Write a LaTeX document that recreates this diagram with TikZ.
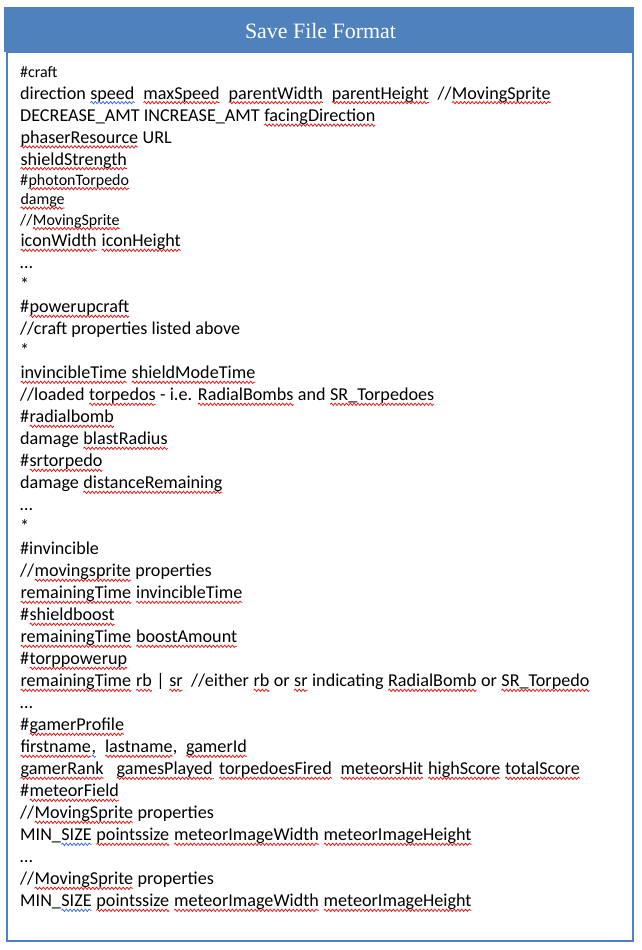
\documentclass[tikz,border=0pt]{standalone}
\usepackage{fontspec}
\setmainfont{Carlito}
\newfontfamily\titlefont{Liberation Serif}
\usetikzlibrary{decorations.pathmorphing}
\definecolor{hdrblue}{RGB}{79,129,189}
\definecolor{sqred}{RGB}{225,20,20}
\definecolor{sqblue}{RGB}{60,100,225}
\tikzset{
  txt/.style={anchor=base west, inner sep=0pt, text=black},
  big/.style={txt, font=\fontsize{18.2}{21}\selectfont},
  sml/.style={txt, font=\fontsize{16}{19}\selectfont},
  title/.style={inner sep=0pt, text=white, font=\titlefont\fontsize{22}{25}\selectfont},
  wave/.style={line width=0.75bp, decorate, decoration={snake, amplitude=1.2bp, segment length=3.8bp}}
}
\newcommand\sqline[2]{\tikz[baseline=(w.base)]{\node[inner sep=0pt, outer sep=0pt, anchor=base west] (w) at (0,0) {#2};
  \draw[#1, wave] ([yshift=-3.6bp]w.base west) -- ([yshift=-3.6bp]w.base east);}}
\newcommand\rw[1]{\sqline{sqred}{#1}}
\newcommand\bw[1]{\sqline{sqblue}{#1}}
\begin{document}
\begin{tikzpicture}[x=1bp,y=-1bp]
\useasboundingbox (0,0) rectangle (642,950);
\draw[hdrblue, line width=2bp] (6.5,52) rectangle (633,941);
\fill[hdrblue] (4,7) rectangle (634,52);
\node[title, anchor=base] (ttl) at (320.5,38.5) {Save File Format};

\node[sml] (l1) at (20,77) {\#craft};
\node[big] (l2) at (20,99) {direction \bw{speed}\ \ \rw{maxSpeed}\ \ \rw{parentWidth}\ \ \rw{parentHeight}\ \ //\rw{MovingSprite}};
\node[big] (l3) at (20,121.5) {DECREASE\_AMT INCREASE\_AMT \rw{facingDirection}};
\node[big] (l4) at (20,143.3) {\rw{phaserResource} URL};
\node[big] (l5) at (20,165) {\rw{shieldStrength}};
\node[sml] (l6) at (20,185) {\#\rw{photonTorpedo}};
\node[sml] (l7) at (20,204.5) {\rw{damge}};
\node[sml] (l8) at (20,225) {//\rw{MovingSprite}};
\node[big] (l9) at (20,246.7) {\rw{iconWidth} \rw{iconHeight}};
\node[big] (l10) at (20,268.7) {…};
\node[big] (l11) at (20,290.7) {*};
\node[big] (l12) at (20,312.7) {\#\rw{powerupcraft}};
\node[big] (l13) at (20,334.7) {//craft properties listed above};
\node[big] (l14) at (20,356.7) {*};
\node[big] (l15) at (20,378.7) {\rw{invincibleTime} \rw{shieldModeTime}};
\node[big] (l16) at (20,400.7) {//loaded \rw{torpedos} - i.e. \rw{RadialBombs} and \rw{SR\_Torpedoes}};
\node[big] (l17) at (20,422.7) {\#\rw{radialbomb}};
\node[big] (l18) at (20,444.7) {damage \rw{blastRadius}};
\node[big] (l19) at (20,466.7) {\#\rw{srtorpedo}};
\node[big] (l20) at (20,488.7) {damage \rw{distanceRemaining}};
\node[big] (l21) at (20,510.7) {…};
\node[big] (l22) at (20,532.7) {*};
\node[big] (l23) at (20,554.7) {\#invincible};
\node[big] (l24) at (20,576.7) {//\rw{movingsprite} properties};
\node[big] (l25) at (20,598.7) {\rw{remainingTime} \rw{invincibleTime}};
\node[big] (l26) at (20,620.7) {\#\rw{shieldboost}};
\node[big] (l27) at (20,642.7) {\rw{remainingTime} \rw{boostAmount}};
\node[big] (l28) at (20,664.7) {\#\rw{torppowerup}};
\node[big] (l29) at (20,686.7) {\rw{remainingTime} \rw{rb} | \rw{sr}\ \ //either \rw{rb} or \rw{sr} indicating \rw{RadialBomb} or \rw{SR\_Torpedo}};
\node[big] (l30) at (20,708.7) {…};
\node[big] (l31) at (20,730.7) {\#\rw{gamerProfile}};
\node[big] (l32) at (20,752.7) {\rw{firstname}\bw{,\ }\ \ \rw{lastname},\ \ \rw{gamerId}};
\node[big] (l33) at (20,774.7) {\rw{gamerRank}\ \ \ \rw{gamesPlayed}\bw{\ }\ \rw{torpedoesFired}\ \ \rw{meteorsHit} \rw{highScore} \rw{totalScore}};
\node[big] (l34) at (20,796.7) {\#\rw{meteorField}};
\node[big] (l35) at (20,818.7) {//\rw{MovingSprite} properties};
\node[big] (l36) at (20,840.7) {MIN\_\bw{SIZE} \rw{pointssize} \rw{meteorImageWidth} \rw{meteorImageHeight}};
\node[big] (l37) at (20,862.7) {…};
\node[big] (l38) at (20,884.7) {//\rw{MovingSprite} properties};
\node[big] (l39) at (20,906.7) {MIN\_\bw{SIZE} \rw{pointssize} \rw{meteorImageWidth} \rw{meteorImageHeight}};
\end{tikzpicture}
\end{document}
